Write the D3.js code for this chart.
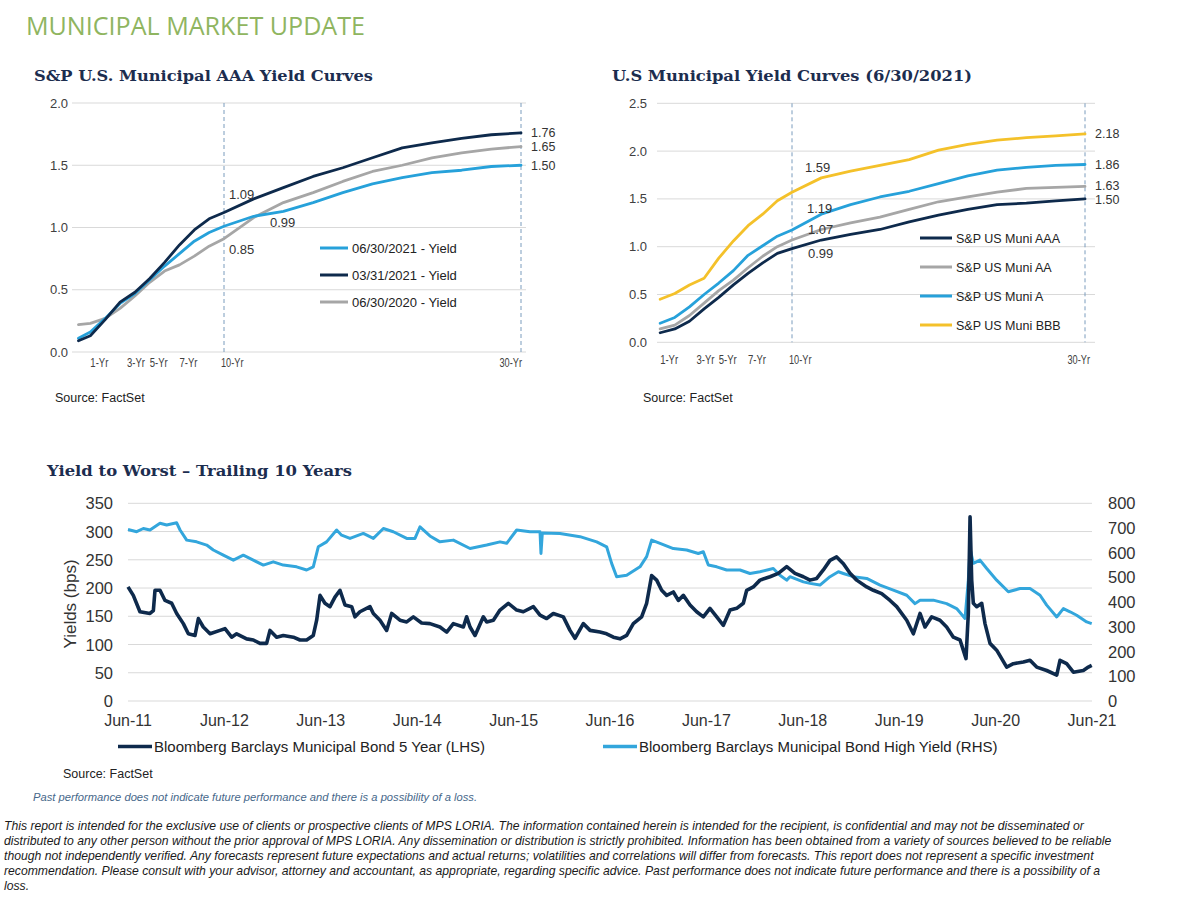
<!DOCTYPE html>
<html><head><meta charset="utf-8">
<script src="https://cdn.jsdelivr.net/npm/d3@7"></script>
<style>
body{margin:0;background:#fff;}
svg{display:block;background:#fff;}
text{font-family:"Liberation Sans",Arial,Helvetica,sans-serif;}
</style></head><body>
<svg id="c" width="1200" height="901"></svg>
<script>
// ---------------- DATA ----------------
// Chart 1: S&P U.S. Municipal AAA Yield Curves (maturity in years)
const aaaMaturities = [0.2,1,2,3,4,5,6,7,8,9,10,12,14,16,18,20,22,24,26,28,30];
const aaaJun2021 = [0.11,0.16,0.27,0.39,0.47,0.58,0.69,0.79,0.89,0.96,1.01,1.09,1.13,1.20,1.28,1.35,1.40,1.44,1.46,1.49,1.50];
const aaaMar2021 = [0.09,0.13,0.26,0.40,0.48,0.59,0.72,0.86,0.98,1.07,1.12,1.23,1.32,1.41,1.48,1.56,1.64,1.68,1.715,1.745,1.76];
const aaaJun2020 = [0.22,0.23,0.27,0.35,0.45,0.56,0.65,0.70,0.77,0.85,0.91,1.08,1.20,1.28,1.37,1.45,1.50,1.56,1.60,1.63,1.65];
const aaaSeriesNames = ["06/30/2021 - Yield","03/31/2021 - Yield","06/30/2020 - Yield"];
const aaaTenYrLabels = ["0.99","1.09","0.85"];
const aaaEndLabels = ["1.50","1.76","1.65"];

// Chart 2: U.S Municipal Yield Curves (6/30/2021)
const gradeMaturities = [1,2,3,4,5,6,7,8,9,10,12,14,16,18,20,22,24,26,28,30];
const muniAAA = [0.10,0.14,0.22,0.35,0.47,0.60,0.72,0.83,0.93,0.98,1.07,1.13,1.18,1.26,1.33,1.39,1.44,1.455,1.48,1.50];
const muniAA  = [0.14,0.18,0.28,0.41,0.54,0.65,0.78,0.90,1.00,1.07,1.18,1.25,1.31,1.39,1.47,1.52,1.57,1.61,1.62,1.63];
const muniA   = [0.20,0.26,0.37,0.50,0.62,0.75,0.91,1.01,1.11,1.175,1.34,1.44,1.52,1.58,1.66,1.74,1.80,1.83,1.85,1.86];
const muniBBB = [0.45,0.51,0.60,0.67,0.88,1.06,1.22,1.34,1.48,1.57,1.72,1.79,1.85,1.91,2.01,2.07,2.115,2.14,2.16,2.18];
const gradeNames = ["S&P US Muni AAA","S&P US Muni AA","S&P US Muni A","S&P US Muni BBB"];
const gradeTenYrLabels = ["0.99","1.07","1.19","1.59"];
const gradeEndLabels = ["1.50","1.63","1.86","2.18"];

const curveTickYears = [1,3,5,7,10,30];
const curveTickLabels = ["1-Yr","3-Yr","5-Yr","7-Yr","10-Yr","30-Yr"];
const aaaYTicks = [0,0.5,1.0,1.5,2.0];
const gradeYTicks = [0,0.5,1.0,1.5,2.0,2.5];

// Chart 3: Yield to Worst - Trailing 10 Years (dates as decimal years)
const ytw5YDates = [2011.50,2011.555,2011.624,2011.728,2011.763,2011.780,2011.832,2011.884,2011.953,2012.005,2012.074,2012.126,2012.195,2012.230,2012.281,2012.351,2012.454,2012.506,2012.575,2012.627,2012.731,2012.800,2012.869,2012.938,2012.973,2013.042,2013.111,2013.215,2013.284,2013.353,2013.422,2013.457,2013.492,2013.543,2013.595,2013.647,2013.699,2013.751,2013.820,2013.855,2013.906,2014.010,2014.045,2014.114,2014.183,2014.235,2014.321,2014.391,2014.460,2014.546,2014.632,2014.736,2014.806,2014.875,2014.979,2015.013,2015.048,2015.100,2015.186,2015.221,2015.290,2015.359,2015.445,2015.532,2015.601,2015.705,2015.774,2015.843,2015.912,2016.016,2016.085,2016.137,2016.223,2016.293,2016.396,2016.465,2016.535,2016.604,2016.673,2016.742,2016.828,2016.880,2016.932,2016.984,2017.036,2017.088,2017.157,2017.209,2017.261,2017.330,2017.399,2017.468,2017.537,2017.607,2017.676,2017.745,2017.814,2017.883,2017.918,2017.987,2018.056,2018.160,2018.246,2018.333,2018.419,2018.506,2018.575,2018.644,2018.713,2018.782,2018.851,2018.921,2018.990,2019.059,2019.163,2019.232,2019.318,2019.405,2019.474,2019.578,2019.647,2019.716,2019.768,2019.837,2019.923,2019.992,2020.062,2020.131,2020.193,2020.217,2020.235,2020.252,2020.269,2020.304,2020.356,2020.390,2020.442,2020.511,2020.615,2020.684,2020.788,2020.857,2020.926,2021.030,2021.134,2021.168,2021.237,2021.307,2021.410,2021.462,2021.497];
const ytw5Y = [202,187,158,155,160,196,196,178,173,155,137,119,116,146,131,119,125,128,113,119,110,108,102,102,125,113,116,113,108,108,116,143,187,173,167,184,196,170,167,149,158,167,155,143,125,155,143,140,149,138,137,131,122,137,131,149,131,116,149,140,143,161,173,161,158,167,152,146,155,149,125,111,137,125,122,119,113,110,116,137,149,173,222,214,196,187,193,178,187,170,158,149,164,149,134,161,164,173,196,202,214,220,226,238,226,220,214,217,232,249,255,243,226,214,202,196,190,178,167,143,119,155,131,149,143,131,113,108,75,155,326,214,173,167,173,137,102,90,60,66,69,72,60,54,46,72,66,51,54,60,63];
const ytwHYDates = [2011.50,2011.590,2011.659,2011.728,2011.832,2011.901,2012.005,2012.040,2012.109,2012.212,2012.316,2012.385,2012.489,2012.593,2012.696,2012.800,2012.904,2013.007,2013.111,2013.249,2013.353,2013.422,2013.474,2013.560,2013.664,2013.716,2013.803,2013.941,2014.045,2014.149,2014.252,2014.391,2014.477,2014.529,2014.632,2014.736,2014.875,2015.048,2015.221,2015.359,2015.428,2015.532,2015.670,2015.774,2015.784,2015.798,2015.981,2016.189,2016.362,2016.465,2016.517,2016.569,2016.673,2016.811,2016.880,2016.932,2017.019,2017.157,2017.295,2017.416,2017.468,2017.520,2017.607,2017.710,2017.849,2017.952,2018.056,2018.194,2018.263,2018.333,2018.367,2018.506,2018.575,2018.678,2018.782,2018.869,2018.921,2019.024,2019.163,2019.301,2019.439,2019.578,2019.664,2019.716,2019.854,2019.992,2020.096,2020.183,2020.217,2020.235,2020.269,2020.338,2020.408,2020.511,2020.632,2020.753,2020.857,2020.961,2021.030,2021.134,2021.203,2021.272,2021.341,2021.445,2021.497];
const ytwHY = [694,685,698,692,719,712,721,692,651,644,631,611,590,570,590,570,550,563,550,543,530,543,624,644,692,671,658,678,658,698,685,658,658,705,668,644,651,617,631,644,638,692,685,685,597,680,678,665,644,624,557,503,509,543,584,651,638,617,611,597,604,550,543,530,530,516,523,536,509,489,503,482,476,469,503,523,516,503,496,469,449,428,394,408,408,394,374,334,489,617,557,570,536,489,442,455,455,428,388,340,374,361,347,320,313];
const ytwSeriesNames = ["Bloomberg Barclays Municipal Bond 5 Year (LHS)","Bloomberg Barclays Municipal Bond High Yield (RHS)"];
const ytwTickYears = [2011.5,2012.5,2013.5,2014.5,2015.5,2016.5,2017.5,2018.5,2019.5,2020.5,2021.5];
const ytwTickLabels = ["Jun-11","Jun-12","Jun-13","Jun-14","Jun-15","Jun-16","Jun-17","Jun-18","Jun-19","Jun-20","Jun-21"];
const ytwLeftTicks = [0,50,100,150,200,250,300,350];
const ytwRightTicks = [0,100,200,300,400,500,600,700,800];

const disclaimerLines = [
 "This report is intended for the exclusive use of clients or prospective clients of MPS LORIA. The information contained herein is intended for the recipient, is confidential and may not be disseminated or",
 "distributed to any other person without the prior approval of MPS LORIA. Any dissemination or distribution is strictly prohibited. Information has been obtained from a variety of sources believed to be reliable",
 "though not independently verified. Any forecasts represent future expectations and actual returns; volatilities and correlations will differ from forecasts. This report does not represent a specific investment",
 "recommendation. Please consult with your advisor, attorney and accountant, as appropriate, regarding specific advice. Past performance does not indicate future performance and there is a possibility of a",
 "loss."
];

// ---------------- STYLE ----------------
const NAVY = "#0e2a4c", LBLUE = "#26a1da", GRAY = "#a6a6a6", GOLD = "#f4c12a";
const GRID = "#d9d9d9", TICK = "#404040", DASH = "#7b9cbd";
const TITLE_FONT = '"DejaVu Serif","Liberation Serif",Georgia,serif';

const svg = d3.select("#c");

svg.append("text").attr("x",26).attr("y",35).attr("fill","#8fb560")
  .style("font-family",'"Open Sans",Calibri,sans-serif').style("font-size","25px")
  .attr("textLength",339).attr("lengthAdjust","spacingAndGlyphs")
  .text("MUNICIPAL MARKET UPDATE");

function title(x,y,t,w){
  svg.append("text").attr("x",x).attr("y",y).attr("fill","#1c2d4f")
   .style("font-family",TITLE_FONT).style("font-weight","bold").style("font-size","15.5px")
   .attr("textLength",w).attr("lengthAdjust","spacingAndGlyphs").text(t);
}
title(34,81,"S&P U.S. Municipal AAA Yield Curves",339);
title(612,81,"U.S Municipal Yield Curves (6/30/2021)",360);
title(47,476,"Yield to Worst \u2013 Trailing 10 Years",305);

// ---------- curve chart helper ----------
function curveChart(cfg){
  const g = svg.append("g");
  const x = d3.scaleLinear().domain([0,30]).range(cfg.xr);
  const y = d3.scaleLinear().domain([0,cfg.ymax]).range(cfg.yr);
  g.selectAll(".gl").data(cfg.yTicks).join("line")
    .attr("x1",cfg.gx[0]).attr("x2",cfg.gx[1]).attr("y1",d=>y(d)).attr("y2",d=>y(d))
    .attr("stroke",GRID).attr("stroke-width",1);
  g.selectAll(".yl").data(cfg.yTicks).join("text")
    .attr("x",cfg.labX).attr("y",d=>y(d)+4.5).attr("text-anchor","end")
    .attr("fill",TICK).style("font-size","13px").text(d=>d.toFixed(1));
  g.selectAll(".dv").data([10,30]).join("line")
    .attr("x1",d=>x(d)).attr("x2",d=>x(d)).attr("y1",y(cfg.ymax)).attr("y2",y(0))
    .attr("stroke",DASH).attr("stroke-width",1).attr("stroke-dasharray","4,3");
  // x tick labels (condensed)
  const last = curveTickYears.length-1;
  g.selectAll(".xl").data(curveTickYears).join("text")
    .attr("x",(d,i)=> i===last ? x(d)+cfg.lastDx-curveTickLabels[i].length*4.5 : x(d)+(d===10?-3:d===3?7:0))
    .attr("y",cfg.xLabY).attr("text-anchor","start")
    .attr("fill",TICK).style("font-size","12px")
    .attr("textLength",(d,i)=>curveTickLabels[i].length*4.5).attr("lengthAdjust","spacingAndGlyphs")
    .text((d,i)=>curveTickLabels[i]);
  const line = d3.line().x(d=>x(d[0])).y(d=>y(d[1]));
  cfg.series.forEach(s=>{
    g.append("path").datum(cfg.mat.map((m,i)=>[m,s.values[i]]))
      .attr("d",line).attr("fill","none").attr("stroke",s.color)
      .attr("stroke-width",2.8).attr("stroke-linejoin","round").attr("stroke-linecap","round");
  });
  cfg.series.forEach(s=>{
    g.append("text").attr("x",x(30)+10).attr("y",y(+s.end)+4.5+(s.endDy||0))
     .attr("fill","#333").style("font-size","12.5px").text(s.end);
  });
  cfg.series.forEach(s=>{
    g.append("text").attr("x",x(10)+s.tenDx).attr("y",y(+s.ten)+s.tenDy)
     .attr("fill","#333").style("font-size","13px").text(s.ten);
  });
  cfg.legendOrder.forEach((k,i)=>{
    const s = cfg.series[k];
    const ly = cfg.leg.y0 + i*cfg.leg.dy;
    g.append("line").attr("x1",cfg.leg.x0).attr("x2",cfg.leg.x1).attr("y1",ly).attr("y2",ly)
      .attr("stroke",s.color).attr("stroke-width",3);
    g.append("text").attr("x",cfg.leg.x1+4).attr("y",ly+4.5).attr("fill","#222")
      .style("font-size",cfg.leg.fs).text(s.name);
  });
  svg.append("text").attr("x",cfg.srcX).attr("y",401.5).attr("fill","#222")
    .style("font-size","12.5px").text("Source:  FactSet");
}

curveChart({
  xr:[75.5,521], yr:[352,103], ymax:2, gx:[72,526], labX:68, xLabY:367, lastDx:1,
  yTicks:aaaYTicks, mat:aaaMaturities, srcX:55,
  series:[
    {name:aaaSeriesNames[2],values:aaaJun2020,color:GRAY,end:aaaEndLabels[2],ten:aaaTenYrLabels[2],tenDx:5,tenDy:8},
    {name:aaaSeriesNames[0],values:aaaJun2021,color:LBLUE,end:aaaEndLabels[0],ten:aaaTenYrLabels[0],tenDx:46,tenDy:-2},
    {name:aaaSeriesNames[1],values:aaaMar2021,color:NAVY,end:aaaEndLabels[1],ten:aaaTenYrLabels[1],tenDx:5,tenDy:-17.5}
  ],
  legendOrder:[1,2,0], leg:{x0:320,x1:348,y0:248,dy:27,fs:"13px"}
});

curveChart({
  xr:[645.5,1085], yr:[342.3,103.3], ymax:2.5, gx:[657,1095], labX:647, xLabY:363.5, lastDx:5,
  yTicks:gradeYTicks, mat:gradeMaturities, srcX:643,
  series:[
    {name:gradeNames[0],values:muniAAA,color:NAVY,end:gradeEndLabels[0],ten:gradeTenYrLabels[0],tenDx:16,tenDy:10,endDy:1},
    {name:gradeNames[1],values:muniAA,color:GRAY,end:gradeEndLabels[1],ten:gradeTenYrLabels[1],tenDx:16,tenDy:-6,endDy:-1},
    {name:gradeNames[2],values:muniA,color:LBLUE,end:gradeEndLabels[2],ten:gradeTenYrLabels[2],tenDx:15,tenDy:-15.5},
    {name:gradeNames[3],values:muniBBB,color:GOLD,end:gradeEndLabels[3],ten:gradeTenYrLabels[3],tenDx:13,tenDy:-18}
  ],
  legendOrder:[0,1,2,3], leg:{x0:920,x1:952,y0:238,dy:29,fs:"12.5px"}
});

// ---------- Yield to worst chart ----------
(function(){
  const g = svg.append("g");
  const x = d3.scaleLinear().domain([2011.5,2021.5]).range([128,1092]);
  const yL = d3.scaleLinear().domain([0,350]).range([701,503.3]);
  const yR = d3.scaleLinear().domain([0,800]).range([701,503.3]);
  g.selectAll(".gl").data(ytwLeftTicks).join("line")
    .attr("x1",128).attr("x2",1092).attr("y1",d=>yL(d)).attr("y2",d=>yL(d))
    .attr("stroke",GRID).attr("stroke-width",1);
  g.selectAll(".yl").data(ytwLeftTicks).join("text")
    .attr("x",113).attr("y",d=>yL(d)+6).attr("text-anchor","end")
    .attr("fill","#333").style("font-size","16.5px").text(d=>d);
  g.selectAll(".yr").data(ytwRightTicks).join("text")
    .attr("x",1108).attr("y",d=>yR(d)+6).attr("text-anchor","start")
    .attr("fill","#333").style("font-size","16.5px").text(d=>d);
  g.selectAll(".xl").data(ytwTickYears).join("text")
    .attr("x",d=>x(d)).attr("y",726).attr("text-anchor","middle")
    .attr("fill","#333").style("font-size","16px").text((d,i)=>ytwTickLabels[i]);
  g.append("text").attr("transform","translate(76,604) rotate(-90)")
    .attr("text-anchor","middle").attr("fill","#333").style("font-size","17px").text("Yields (bps)");
  const lineL = d3.line().x(d=>x(d[0])).y(d=>yL(d[1]));
  const lineR = d3.line().x(d=>x(d[0])).y(d=>yR(d[1]));
  g.append("path").datum(ytwHYDates.map((d,i)=>[d,ytwHY[i]])).attr("d",lineR)
    .attr("fill","none").attr("stroke","#33a6dc").attr("stroke-width",3).attr("stroke-linejoin","round");
  g.append("path").datum(ytw5YDates.map((d,i)=>[d,ytw5Y[i]])).attr("d",lineL)
    .attr("fill","none").attr("stroke",NAVY).attr("stroke-width",3.6).attr("stroke-linejoin","round");
  const leg = [{x0:118,color:NAVY},{x0:603,color:"#33a6dc"}];
  leg.forEach((l,i)=>{
    g.append("line").attr("x1",l.x0).attr("x2",l.x0+34).attr("y1",746.5).attr("y2",746.5)
      .attr("stroke",l.color).attr("stroke-width",3.5);
    g.append("text").attr("x",l.x0+36).attr("y",752).attr("fill","#222")
      .style("font-size","15px").text(ytwSeriesNames[i]);
  });
  svg.append("text").attr("x",63).attr("y",777.5).attr("fill","#222")
    .style("font-size","12.5px").text("Source:  FactSet");
})();

svg.append("text").attr("x",33).attr("y",800.5).attr("fill","#46678a")
  .style("font-size","11.2px").style("font-style","italic")
  .text("Past performance does not indicate future performance and there is a possibility of a loss.");

svg.selectAll(".disc").data(disclaimerLines).join("text")
  .attr("x",4).attr("y",(d,i)=>829.5+i*15).attr("fill","#1a1a1a")
  .style("font-size","12.2px").style("font-style","italic").text(d=>d);
</script>
</body></html>
